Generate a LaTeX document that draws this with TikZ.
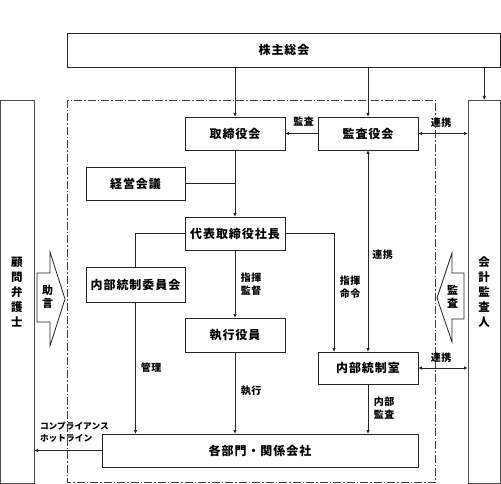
\documentclass[tikz,border=0pt]{standalone}
\usepackage{fontspec}
\setmainfont{Noto Sans CJK JP}
\usetikzlibrary{arrows.meta,calc}
\begin{document}
\begin{tikzpicture}[x=1pt,y=-1pt,
  line width=0.8pt,
  every node/.style={inner sep=0pt,outer sep=0pt},
  boxfont/.style={font=\fontsize{12}{14}\selectfont\bfseries\addfontfeature{LetterSpace=8}},
  box/.style={draw=black!85,fill=white,minimum width=100pt,minimum height=33pt,boxfont},
  lbl/.style={font=\fontsize{10}{13}\selectfont\bfseries\addfontfeature{LetterSpace=5},align=left},
  arr/.style={draw=black!85,-{Latex[length=4pt,width=3.5pt]}},
  darr/.style={draw=black!85,{Latex[length=4pt,width=3.5pt]}-{Latex[length=4pt,width=3.5pt]}},
  ln/.style={draw=black!85},
  side/.style={draw=black!70,line width=0.9pt},
  dashdot/.style={draw=black!75,line width=0.8pt,dash pattern=on 8pt off 2pt on 1.5pt off 2pt}
]
\useasboundingbox (0,0) rectangle (501,484);

% dash-dot frame
\draw[dashdot] (67,100) rectangle (435,482);

% side boxes
\node[side,minimum width=33.5pt,minimum height=383pt,anchor=north west] (lbox) at (0.5,100) {};
\node[side,minimum width=32.5pt,minimum height=383pt,anchor=north west] (rbox) at (468,100) {};
\node[font=\fontsize{11.5}{15}\selectfont\bfseries,align=center] (lboxt) at (17,292) {顧\\問\\弁\\護\\士};
\node[font=\fontsize{11.5}{15}\selectfont\bfseries,align=center] (rboxt) at (484,292) {会\\計\\監\\査\\人};

% block arrows
\draw[draw=black!85,fill=white] (37,273) -- (50,273) -- (50,252) -- (65,299) -- (50,346) -- (50,322) -- (37,322) -- cycle;
\node[font=\fontsize{11}{13}\selectfont\bfseries,align=center] (jogen) at (47.5,296.5) {助\\言};
\draw[draw=black!85,fill=white] (464,273) -- (452,273) -- (452,253) -- (437,298) -- (452,342) -- (452,319) -- (464,319) -- cycle;
\node[font=\fontsize{11}{13}\selectfont\bfseries,align=center] (kansa2) at (452.5,296.5) {監\\査};

% boxes
\node[box,minimum width=433.5pt,minimum height=34pt,anchor=north west] (soukai) at (67,33) {};
\node[boxfont] (soukait) at (284,50) {株主総会};
\node[box] (tori) at (235,133.5) {取締役会};
\node[box] (kansa) at (368,133.5) {監査役会};
\node[box,minimum width=99pt] (keiei) at (135.5,183.5) {経営会議};
\node[box] (daihyo) at (235,233.5) {代表取締役社長};
\node[box,minimum width=99pt,minimum height=35pt] (iinkai) at (135.5,284.5) {内部統制委員会};
\node[box,minimum height=34pt] (shikko) at (235,335) {執行役員};
\node[box,minimum height=32pt] (shitsu) at (368,368) {内部統制室};
\node[box,minimum width=316pt] (kakubu) at (260,450.5) {各部門・関係会社};

% connectors
\draw[arr] (tori.north |- soukai.south) -- (tori.north);
\draw[arr] (kansa.north |- soukai.south) -- (kansa.north);
\draw[arr] (rbox.north |- soukai.south) -- (rbox.north);
\draw[arr] (kansa.west) -- (tori.east);
\node[lbl] (l1) at (303.5,122) {監査};
\draw[darr] (kansa.east) -- (kansa.east -| rbox.west);
\node[lbl] (l2) at (441,123) {連携};
\draw[arr] (tori.south) -- (daihyo.north);
\draw[ln] (keiei.east) -- (keiei.east -| tori.south);
\draw[ln] (daihyo.west) -| (iinkai.north);
\coordinate (rc) at (334,233.5);
\draw[arr] (daihyo.east) -- (rc) -- (rc |- shitsu.north);
\draw[arr] (daihyo.south) -- (shikko.north);
\node[lbl] (l3) at (251,284) {指揮\\監督};
\node[lbl] (l4) at (350,287) {指揮\\命令};
\draw[darr] (kansa.south) -- (shitsu.north);
\node[lbl] (l5) at (382.5,255) {連携};
\draw[darr] (shitsu.east) -- (shitsu.east -| rbox.west);
\node[lbl] (l6) at (441,358) {連携};
\draw[arr] (iinkai.south) -- (iinkai.south |- kakubu.north);
\node[lbl] (l7) at (151,368) {管理};
\draw[arr] (shikko.south) -- (shikko.south |- kakubu.north);
\node[lbl] (l8) at (251,391) {執行};
\draw[arr] (shitsu.south) -- (shitsu.south |- kakubu.north);
\node[lbl] (l9) at (384,408) {内部\\監査};
\draw[arr] (kakubu.west) -- (kakubu.west -| lbox.east);
\node[font=\fontsize{8.7}{12}\selectfont\bfseries,align=left,anchor=north west] (l10) at (40,422) {コンプライアンス\\ホットライン};
\end{tikzpicture}
\end{document}
